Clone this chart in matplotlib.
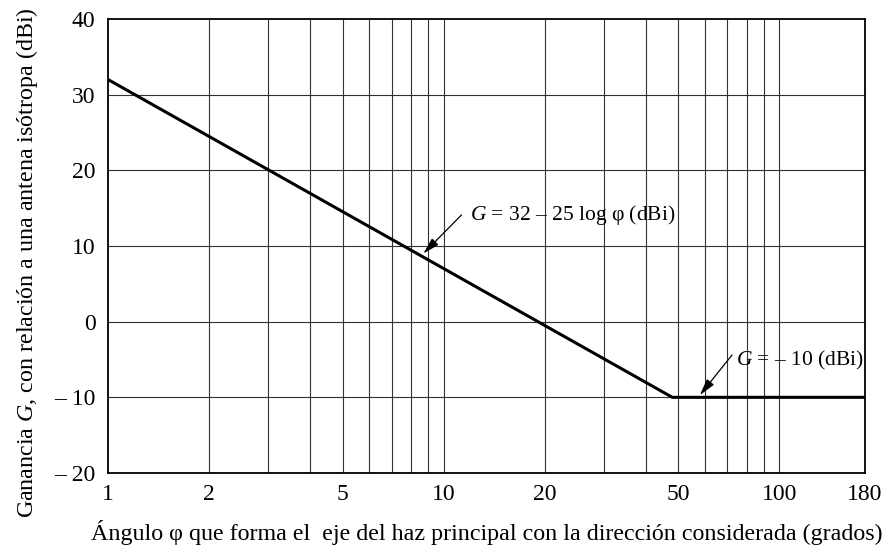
import matplotlib
matplotlib.use('Agg')
import matplotlib.pyplot as plt
from matplotlib.ticker import FixedLocator, NullFormatter, NullLocator

plt.rcParams['font.family'] = ['Liberation Serif', 'DejaVu Serif']
plt.rcParams['mathtext.fontset'] = 'custom'
plt.rcParams['mathtext.rm'] = 'Liberation Serif'
plt.rcParams['mathtext.it'] = 'Liberation Serif:italic'

# breakpoints of the reference pattern (degrees, dBi)
phi = [1, 48, 180]
gain = [32, -10, -10]

x_ticks = [1, 2, 5, 10, 20, 50, 100, 180]
x_grid = [2, 3, 4, 5, 6, 7, 8, 9, 10, 20, 30, 40, 50, 60, 70, 80, 90, 100]
y_ticks = [40, 30, 20, 10, 0, -10, -20]
y_labels = ['40', '30', '20', '10', '0', '\u2013 10', '\u2013 20']

fig, ax = plt.subplots(figsize=(8.87, 5.54), dpi=100)
fig.subplots_adjust(left=0.1218, right=0.9752, top=0.9657, bottom=0.1462)

ax.set_xscale('log')
ax.set_xlim(1, 180)
ax.set_ylim(-20, 40)

for x in x_grid:
    ax.axvline(x, color='#333333', lw=0.8, zorder=1)
for y in y_ticks[1:-1]:
    ax.axhline(y, color='#333333', lw=0.8, zorder=1)

ax.plot(phi, gain, color='black', lw=2.2, solid_joinstyle='miter', zorder=3)

ax.xaxis.set_major_locator(FixedLocator(x_ticks))
ax.xaxis.set_minor_locator(NullLocator())
ax.xaxis.set_minor_formatter(NullFormatter())
ax.set_xticklabels([str(v) for v in x_ticks])
ax.set_yticks(y_ticks)
ax.set_yticklabels(y_labels)
ax.tick_params(axis='x', length=0, labelsize=17, pad=8)
ax.tick_params(axis='y', length=0, labelsize=17, pad=9)

for s in ax.spines.values():
    s.set_linewidth(1.3)

ax.set_xlabel('Ángulo φ que forma el  eje del haz principal con la dirección considerada (grados)',
              fontsize=17.3, labelpad=11)
ax.set_ylabel('Ganancia $G$, con relación a una antena isótropa (dBi)', fontsize=17.3,
              labelpad=10, y=0.4626)

arrow = dict(arrowstyle='-|>,head_length=1.0,head_width=0.27', color='black', lw=0.9,
             mutation_scale=10, shrinkA=0, shrinkB=0)
ax.annotate('', xy=(8.7, 9.0), xytext=(11.3, 14.1), arrowprops=arrow, zorder=4)
ax.text(12.0, 14.1, '$G$ = 32 \u2013 25 log φ (dBi)', fontsize=15.5, va='center', ha='left', zorder=4)
ax.annotate('', xy=(58, -9.7), xytext=(72.3, -4.4), arrowprops=arrow, zorder=4)
ax.text(74.2, -5.1, '$G$ = \u2013 10 (dBi)', fontsize=15.5, va='center', ha='left', zorder=4)

fig.savefig('out.png', dpi=100)
